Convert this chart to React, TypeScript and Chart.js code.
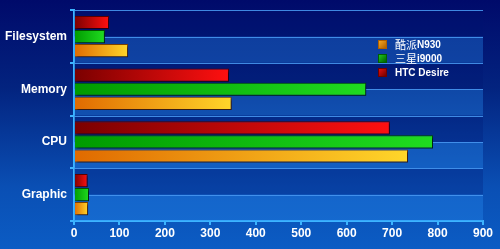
import React, { useEffect, useRef } from "react";
import { Chart, registerables } from "chart.js";

Chart.register(...registerables);

const categories = ["Filesystem", "Memory", "CPU", "Graphic"];
const htcDesire = [77, 341, 695, 30];
const samsungI9000 = [68, 643, 790, 33];
const coolpadN930 = [119, 347, 735, 31];
const xTicks = [0, 100, 200, 300, 400, 500, 600, 700, 800, 900];

const legendItems = [
  { cjk: "酷派", latin: "N930", color: "#f5a623", dark: "#b06000" },
  { cjk: "三星", latin: "i9000", color: "#1ec81e", dark: "#006000" },
  { cjk: "", latin: "HTC Desire", color: "#e01010", dark: "#700000" },
];

const gridColor = "rgba(70,150,240,0.9)";
const axisColor = "#3cb4ff";

const stripePlugin = {
  id: "stripes",
  beforeDatasetsDraw(chart: any) {
    const { ctx, chartArea } = chart;
    const n = categories.length;
    const band = (chartArea.bottom - chartArea.top) / n;
    ctx.save();
    for (let i = 0; i < n; i++) {
      const top = chartArea.top + band * i;
      const mid = top + band / 2;
      ctx.fillStyle = "rgba(0,20,110,0.25)";
      ctx.fillRect(chartArea.left, top, chartArea.right - chartArea.left, band / 2);
      ctx.fillStyle = "rgba(40,140,240,0.35)";
      ctx.fillRect(chartArea.left, mid, chartArea.right - chartArea.left, band / 2);
      ctx.strokeStyle = gridColor;
      ctx.lineWidth = 1;
      ctx.beginPath();
      ctx.moveTo(chartArea.left, Math.round(top) + 0.5);
      ctx.lineTo(chartArea.right, Math.round(top) + 0.5);
      ctx.moveTo(chartArea.left, Math.round(mid) + 0.5);
      ctx.lineTo(chartArea.right, Math.round(mid) + 0.5);
      ctx.stroke();
    }
    ctx.restore();
  },
  beforeDatasetDraw(chart: any) {
    const ctx = chart.ctx;
    ctx.save();
    ctx.shadowColor = "rgba(0,0,40,0.6)";
    ctx.shadowBlur = 2;
    ctx.shadowOffsetX = 2;
    ctx.shadowOffsetY = 2;
  },
  afterDatasetDraw(chart: any) {
    chart.ctx.restore();
  },
};

function gradientFor(dark: string, light: string) {
  return (context: any) => {
    const chart = context.chart;
    const x = chart.scales?.x;
    if (!x || !chart.chartArea || context.parsed == null) return light;
    const x0 = x.getPixelForValue(0);
    const x1 = x.getPixelForValue(context.parsed.x);
    if (!isFinite(x0) || !isFinite(x1) || x1 - x0 < 1) return light;
    const g = chart.ctx.createLinearGradient(x0, 0, x1, 0);
    g.addColorStop(0, dark);
    g.addColorStop(1, light);
    return g;
  };
}

export default function App() {
  const canvasRef = useRef<HTMLCanvasElement>(null);

  useEffect(() => {
    if (!canvasRef.current) return;
    const chart = new Chart(canvasRef.current, {
      type: "bar",
      data: {
        labels: categories,
        datasets: [
          {
            label: "HTC Desire",
            data: htcDesire,
            backgroundColor: gradientFor("#7a0000", "#ff1010"),
            borderColor: "#5a0000",
            borderWidth: 1,
          },
          {
            label: "三星i9000",
            data: samsungI9000,
            backgroundColor: gradientFor("#009a00", "#20dc20"),
            borderColor: "#005000",
            borderWidth: 1,
          },
          {
            label: "酷派N930",
            data: coolpadN930,
            backgroundColor: gradientFor("#e06a00", "#ffd62a"),
            borderColor: "#7a4000",
            borderWidth: 1,
          },
        ],
      },
      options: {
        indexAxis: "y",
        animation: false,
        responsive: false,
        maintainAspectRatio: false,
        layout: { padding: { top: 10, right: 17, left: 0, bottom: 0 } },
        datasets: {
          bar: { categoryPercentage: 0.8, barPercentage: 0.94 },
        },
        plugins: {
          legend: { display: false },
          tooltip: { enabled: false },
        },
        scales: {
          x: {
            min: 0,
            max: 900,
            afterFit: (s: any) => {
              s.height = 28;
            },
            afterBuildTicks: (s: any) => {
              s.ticks = xTicks.map((v) => ({ value: v }));
            },
            grid: {
              drawOnChartArea: false,
              drawTicks: true,
              tickLength: 4,
              color: axisColor,
              lineWidth: 2,
            },
            border: { display: true, color: axisColor, width: 2 },
            ticks: {
              color: "#ffffff",
              padding: 1,
              font: { family: "Liberation Sans, Arial, sans-serif", size: 12, weight: "bold" },
            },
          },
          y: {
            afterFit: (s: any) => {
              s.width = 74;
            },
            grid: {
              offset: true,
              drawOnChartArea: false,
              drawTicks: true,
              tickLength: 4,
              color: axisColor,
              lineWidth: 2,
            },
            border: { display: true, color: axisColor, width: 2 },
            ticks: {
              color: "#ffffff",
              padding: 3,
              font: { family: "Liberation Sans, Arial, sans-serif", size: 12, weight: "bold" },
            },
          },
        },
      } as any,
      plugins: [stripePlugin],
    });
    return () => chart.destroy();
  }, []);

  return (
    <div
      style={{
        position: "fixed",
        left: 0,
        top: 0,
        width: 500,
        height: 249,
        background: "linear-gradient(180deg, #000a6a 0%, #03237f 35%, #0a4fb4 75%, #0b5cc4 100%)",
        overflow: "hidden",
      }}
    >
      <canvas ref={canvasRef} width={500} height={249} style={{ position: "absolute", left: 0, top: 0 }} />
      {legendItems.map((it, i) => (
        <div
          key={i}
          style={{
            position: "absolute",
            left: 378,
            top: 37 + i * 14,
            height: 14,
            display: "flex",
            alignItems: "center",
            color: "#ffffff",
            fontFamily: "Liberation Sans, Arial, sans-serif",
            fontSize: 10,
            fontWeight: "bold",
            whiteSpace: "nowrap",
          }}
        >
          <span
            style={{
              display: "inline-block",
              width: 7,
              height: 7,
              background: `linear-gradient(135deg, ${it.color}, ${it.dark})`,
              border: `1px solid ${it.dark}`,
              marginRight: 8,
            }}
          />
          {it.cjk ? (
            <span style={{ fontFamily: "'Noto Sans CJK SC', sans-serif", fontWeight: "normal", fontSize: 11 }}>{it.cjk}</span>
          ) : null}
          <span>{it.latin}</span>
        </div>
      ))}
    </div>
  );
}
